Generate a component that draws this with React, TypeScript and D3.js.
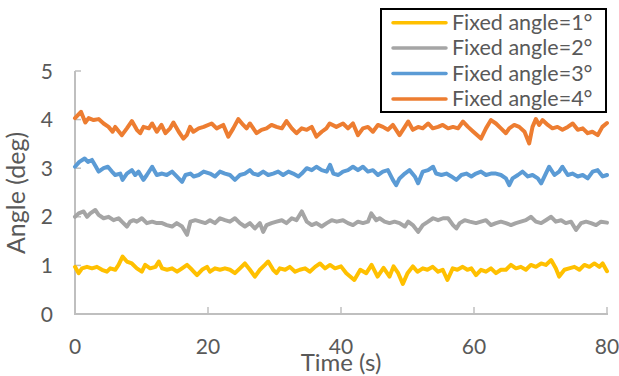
import React from "react";
import * as d3 from "d3";

const seriesNames = ["Fixed angle=1°", "Fixed angle=2°", "Fixed angle=3°", "Fixed angle=4°"];
const seriesColors = ["#FFC000", "#A5A5A5", "#5B9BD5", "#ED7D31"];
const xTicks = [0, 20, 40, 60, 80];
const yTicks = [0, 1, 2, 3, 4, 5];

const angle1: [number, number][] = [[0,0.97],[0.55,0.84],[1.05,0.94],[1.8,0.97],[2.55,0.94],[3.3,0.97],[4.05,0.91],[4.8,0.87],[5.3,0.94],[6.05,0.91],[6.55,1.01],[7.15,1.18],[7.8,1.08],[8.55,1.04],[9.3,0.94],[10.05,0.87],[10.55,1.01],[11.3,0.94],[12.1,0.97],[12.6,1.08],[13.1,0.94],[13.85,0.91],[14.6,0.94],[15.35,0.87],[16.1,0.94],[16.85,1.01],[17.6,0.91],[18.35,0.8],[19.1,0.91],[19.85,0.97],[20.3,0.87],[21.05,0.94],[21.8,0.91],[22.55,0.94],[23.3,0.91],[24.05,0.84],[24.8,0.94],[25.55,1.04],[26.3,0.91],[27.05,0.77],[27.8,0.91],[28.55,1.01],[29.05,1.08],[29.8,0.91],[30.3,0.84],[30.8,0.94],[31.6,0.91],[32.3,0.97],[33.1,0.87],[33.8,0.91],[34.6,0.94],[35.3,0.87],[36.1,0.97],[36.85,1.04],[37.6,0.94],[38.35,1.01],[39.1,0.94],[40.0,0.98],[40.8,0.84],[42.0,0.7],[42.9,0.91],[43.8,0.84],[44.6,1.01],[45.5,0.77],[46.4,0.95],[47.3,0.77],[47.9,0.98],[48.6,0.84],[49.3,0.62],[50.0,0.84],[50.8,0.98],[51.5,0.87],[52.3,0.94],[53.0,0.91],[53.8,0.97],[54.6,0.87],[55.3,0.91],[56.0,0.7],[56.8,0.94],[57.5,0.91],[58.3,0.97],[59.0,0.91],[59.6,0.94],[60.3,0.8],[61.05,0.91],[61.8,0.87],[62.55,0.94],[63.3,0.84],[64.05,0.91],[64.8,0.91],[65.55,1.01],[66.3,0.94],[67.05,0.97],[67.8,0.91],[68.55,1.01],[69.3,0.97],[70.1,1.04],[70.8,1.01],[71.6,1.11],[72.3,0.94],[72.8,0.77],[73.6,0.91],[74.3,0.94],[75.1,0.97],[75.85,0.91],[76.6,1.01],[77.35,0.97],[78.1,1.04],[78.85,0.97],[79.35,1.04],[80,0.88]];

const angle2: [number, number][] = [[0,2.0],[0.55,2.07],[1.3,2.11],[1.8,2.0],[2.3,2.07],[3.05,2.14],[3.55,2.04],[4.3,1.97],[5.05,2.0],[5.8,1.93],[6.55,1.97],[7.05,1.9],[7.8,1.8],[8.3,1.9],[8.8,1.93],[9.3,1.9],[10.05,1.97],[10.8,1.87],[11.6,1.9],[12.3,1.87],[13.1,1.87],[13.8,1.83],[14.6,1.8],[15.3,1.87],[16.1,1.8],[16.85,1.63],[17.35,1.9],[18.1,1.93],[18.85,1.9],[19.6,1.87],[20.3,1.93],[21.05,1.87],[21.8,1.97],[22.55,1.93],[23.3,1.9],[24.05,1.97],[24.8,1.87],[25.55,1.8],[26.3,1.87],[27.05,1.76],[27.8,1.87],[28.3,1.69],[28.8,1.83],[29.55,1.87],[30.3,1.9],[31.1,1.93],[31.8,1.87],[32.6,1.97],[33.3,1.93],[34.1,2.11],[34.85,1.9],[35.6,1.83],[36.3,1.87],[37.1,1.8],[37.85,1.87],[38.6,1.93],[39.35,1.9],[40.3,1.93],[41.05,1.87],[41.8,1.83],[42.55,1.9],[43.3,1.87],[44.05,1.9],[44.55,2.07],[45.3,1.93],[45.8,1.97],[46.55,1.9],[47.3,1.87],[48.05,1.9],[48.8,1.87],[49.6,1.8],[50.1,1.9],[50.8,1.83],[51.6,1.69],[52.3,1.83],[53.1,1.9],[53.85,1.97],[54.6,1.93],[55.35,1.97],[56.1,1.97],[56.85,1.83],[57.35,1.76],[57.85,1.87],[58.6,1.93],[59.35,1.9],[60.3,1.87],[61.05,1.9],[61.8,1.93],[62.55,1.83],[63.3,1.87],[64.05,1.9],[64.8,1.87],[65.55,1.83],[66.3,1.87],[67.05,1.9],[67.8,1.93],[68.55,2.0],[69.3,1.9],[70.1,1.87],[70.8,1.93],[71.6,2.0],[72.3,1.9],[73.1,1.93],[73.8,1.87],[74.6,1.9],[75.35,1.73],[76.1,1.87],[76.85,1.9],[77.6,1.87],[78.35,1.83],[79.1,1.9],[80,1.88]];

const angle3: [number, number][] = [[0,3.03],[0.65,3.13],[1.45,3.2],[1.95,3.13],[2.55,3.17],[3.15,3.03],[3.55,2.93],[4.3,3.0],[4.95,3.03],[5.55,2.93],[6.05,2.86],[6.8,2.89],[7.15,2.76],[7.8,2.89],[8.55,2.96],[9.05,2.86],[9.55,2.93],[10.3,2.76],[10.8,2.86],[11.6,3.03],[12.3,2.86],[13.1,2.89],[13.8,2.86],[14.6,2.93],[15.3,2.83],[16.1,2.72],[16.6,2.86],[17.35,2.89],[17.85,2.83],[18.6,2.86],[19.35,2.93],[20.3,2.89],[21.05,2.83],[21.8,2.93],[22.55,2.89],[23.3,2.86],[24.05,2.76],[24.8,2.86],[25.55,2.89],[26.3,2.96],[26.8,2.89],[27.55,2.86],[28.3,2.93],[29.05,2.86],[29.8,2.89],[30.55,2.93],[31.3,2.86],[32.1,2.93],[32.8,2.89],[33.6,2.83],[34.1,2.89],[34.85,3.0],[35.6,2.96],[36.3,3.03],[37.1,2.96],[37.85,2.93],[38.35,3.07],[38.85,2.89],[39.6,2.86],[40.3,2.93],[41.05,2.96],[41.8,3.03],[42.55,2.96],[43.3,3.03],[44.05,2.93],[44.8,2.96],[45.55,2.86],[46.3,2.93],[47.05,2.96],[47.8,2.76],[48.3,2.65],[48.8,2.79],[49.6,2.89],[50.3,2.96],[51.1,2.83],[51.6,2.69],[52.3,2.93],[53.1,2.96],[53.85,3.03],[54.3,2.89],[55.1,2.86],[55.85,2.89],[56.6,2.83],[57.35,2.76],[58.1,2.86],[58.85,2.89],[59.6,2.83],[60.3,2.89],[61.05,2.93],[61.8,2.86],[62.55,2.89],[63.3,2.89],[64.05,2.86],[64.8,2.79],[65.3,2.65],[65.8,2.79],[66.6,2.86],[67.3,2.93],[68.1,2.83],[68.8,2.86],[69.6,2.79],[70.1,2.69],[70.8,2.89],[71.3,3.03],[72.1,2.86],[72.8,2.93],[73.3,3.03],[74.1,2.86],[74.8,2.89],[75.6,2.83],[76.35,2.86],[77.1,2.79],[77.85,2.93],[78.6,2.96],[79.35,2.83],[80,2.86]];

const angle4: [number, number][] = [[0,4.03],[0.9,4.16],[1.55,3.94],[2.05,4.03],[2.8,3.99],[3.55,4.01],[4.3,3.92],[5.05,3.85],[5.65,3.75],[6.05,3.85],[7.05,3.68],[7.8,3.82],[8.55,3.97],[9.3,3.79],[9.8,3.72],[10.3,3.85],[11.1,3.82],[11.6,3.92],[12.3,3.75],[13.0,3.89],[13.6,3.72],[14.3,3.82],[14.8,3.94],[15.6,3.75],[16.3,3.61],[16.8,3.68],[17.3,3.85],[17.8,3.75],[18.6,3.82],[19.35,3.85],[20.55,3.92],[21.3,3.82],[22.3,3.89],[23.05,3.65],[23.8,3.82],[24.55,4.01],[25.3,3.89],[25.8,3.82],[26.3,3.92],[27.3,3.72],[28.05,3.79],[28.8,3.82],[29.55,3.89],[30.3,3.85],[31.1,3.82],[31.8,3.97],[32.6,3.82],[33.3,3.72],[34.1,3.82],[34.85,3.79],[35.6,3.85],[36.3,3.65],[37.1,3.75],[37.8,3.82],[38.3,3.92],[39.3,3.85],[40.3,3.92],[41.05,3.82],[41.8,3.92],[42.55,3.68],[43.3,3.82],[44.05,3.85],[44.8,3.75],[45.55,3.89],[46.3,3.85],[47.05,3.79],[47.8,3.89],[48.8,3.68],[49.6,3.85],[50.1,3.96],[50.8,3.79],[51.6,3.85],[52.3,3.82],[53.1,3.92],[53.8,3.82],[54.6,3.85],[55.3,3.89],[56.1,3.82],[56.85,3.85],[57.6,3.82],[58.35,3.96],[59.1,3.85],[59.9,3.75],[61.05,3.61],[61.8,3.82],[62.55,3.99],[63.3,3.92],[64.05,3.82],[64.8,3.72],[65.3,3.82],[66.05,3.89],[66.8,3.85],[67.6,3.75],[68.3,3.51],[68.8,3.85],[69.3,4.01],[69.8,3.89],[70.3,3.99],[71.1,3.89],[71.8,3.82],[72.55,3.85],[73.3,3.79],[74.1,3.85],[74.85,3.92],[75.6,3.79],[76.35,3.82],[77.1,3.72],[77.8,3.75],[78.6,3.68],[79.3,3.85],[80,3.93]];

const allSeries = [angle1, angle2, angle3, angle4];

const W = 619;
const H = 376;
const FONT = "Lato, 'Noto Sans', sans-serif";
const TEXT = "#595959";
const AXIS = "#BFBFBF";

export default function App() {
  const x = d3.scaleLinear().domain([0, 80]).range([75, 607]);
  const y = d3.scaleLinear().domain([0, 5]).range([314, 71]);
  const line = d3
    .line<[number, number]>()
    .x((d) => x(d[0]))
    .y((d) => y(d[1]))
    .curve(d3.curveLinear);

  return (
    <svg
      width={W}
      height={H}
      style={{ position: "absolute", left: 0, top: 0, background: "#fff" }}
      fontFamily={FONT}
    >
      <rect x={0} y={0} width={W} height={H} fill="#fff" />
      <line x1={x(0)} x2={x(0)} y1={y(5)} y2={y(0)} stroke={AXIS} strokeWidth={2} />
      <line x1={x(0) - 1} x2={x(80) + 1} y1={y(0)} y2={y(0)} stroke={AXIS} strokeWidth={2} />
      {yTicks.slice(1).map((t) => (
        <line key={"yt" + t} x1={x(0)} x2={x(0) + 6} y1={y(t)} y2={y(t)} stroke={AXIS} strokeWidth={1.5} />
      ))}
      {xTicks.slice(1).map((t) => (
        <line key={"xt" + t} x1={x(t)} x2={x(t)} y1={y(0)} y2={y(0) - 7} stroke={AXIS} strokeWidth={1.5} />
      ))}
      {yTicks.map((t) => (
        <text key={"yl" + t} x={53} y={y(t)} dy="0.36em" textAnchor="end" fontSize={21} fill={TEXT}>
          {t}
        </text>
      ))}
      {xTicks.map((t) => (
        <text key={"xl" + t} x={x(t)} y={354} textAnchor="middle" fontSize={21} fill={TEXT}>
          {t}
        </text>
      ))}
      <text x={341} y={371} textAnchor="middle" fontSize={24} fill={TEXT}>
        Time (s)
      </text>
      <text
        transform={`translate(25,193) rotate(-90)`}
        textAnchor="middle"
        fontSize={25}
        fill={TEXT}
      >
        Angle (deg)
      </text>
      {allSeries.map((s, i) => (
        <path
          key={"s" + i}
          d={line(s) || ""}
          fill="none"
          stroke={seriesColors[i]}
          strokeWidth={4}
          strokeLinejoin="round"
          strokeLinecap="round"
        />
      ))}
      <rect x={381} y={9} width={225} height={103} fill="#fff" stroke="#000" strokeWidth={2} />
      {seriesNames.map((n, i) => {
        const cy = 22.7 + i * 25.4;
        return (
          <g key={"lg" + i}>
            <line x1={393} x2={446} y1={cy} y2={cy} stroke={seriesColors[i]} strokeWidth={3.5} strokeLinecap="round" />
            <text x={452} y={cy + 7} fontSize={21.5} fill={TEXT}>
              {n}
            </text>
          </g>
        );
      })}
    </svg>
  );
}
